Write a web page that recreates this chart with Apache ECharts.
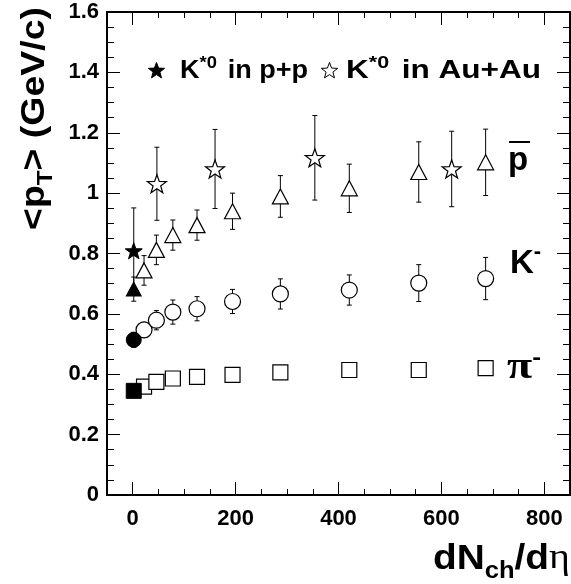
<!DOCTYPE html>
<html><head><meta charset="utf-8">
<script src="https://cdn.jsdelivr.net/npm/echarts@6/dist/echarts.min.js"></script>
<style>html,body{margin:0;padding:0;background:#fff}#c{width:571px;height:584px}</style>
</head><body><div id="c"></div>
<script>
// ---------------- data ----------------
const auX = [22, 46, 78, 125, 194, 287, 421, 556, 686];           // dNch/deta, Au+Au centrality bins
const piMinus = [0.359, 0.375, 0.386, 0.391, 0.398, 0.406, 0.414, 0.414, 0.420];
const kMinus = [0.547, 0.579, 0.606, 0.617, 0.641, 0.666, 0.679, 0.702, 0.717];
const kMinusErr = [0.025, 0.032, 0.040, 0.040, 0.040, 0.050, 0.050, 0.061, 0.070];
const pBar = [0.744, 0.812, 0.861, 0.894, 0.940, 0.989, 1.016, 1.070, 1.102];
const pBarErr = [0.049, 0.049, 0.050, 0.050, 0.060, 0.069, 0.080, 0.100, 0.110];
const kStarAuX = [47, 160, 354, 620];
const kStarAu = [1.031, 1.080, 1.117, 1.080];
const kStarAuErr = [0.121, 0.131, 0.140, 0.125];
const ppX = [2];
const ppPi = [0.345];
const ppK = [0.514];
const ppKErr = [0.025];
const ppPBar = [0.682];
const ppPBarErr = [0.040];
const ppKStar = [0.809];
const ppKStarErr = [0.142];
const xMajorTicks = [0, 200, 400, 600, 800];
const xMinorTicks = [-50, 50, 100, 150, 250, 300, 350, 450, 500, 550, 650, 700, 750, 850];

// ---------------- helpers ----------------
const SANS = "'Liberation Sans', Arial, Helvetica, sans-serif";
const SERIF = "'Liberation Serif', 'Times New Roman', serif";
function starPoints(cx, cy, R, r) {
  const pts = [];
  for (let i = 0; i < 10; i++) {
    const a = -Math.PI / 2 + i * Math.PI / 5;
    const rad = i % 2 === 0 ? R : r;
    pts.push([cx + rad * Math.cos(a), cy + rad * Math.sin(a)]);
  }
  return pts;
}
const starPath = 'path://M' + starPoints(50, 50, 50, 20).map(p => p[0].toFixed(2) + ',' + p[1].toFixed(2)).join('L') + 'Z';

const mctx = document.createElement('canvas').getContext('2d');
function tw(text, font) { mctx.font = font; return mctx.measureText(text).width; }
// pieces laid out on a common baseline at local y = 0; group stretched along the text to span `span` px
function textRow(x, y, pieces, span, rotation) {
  let cx = 0; const out = [];
  for (const p of pieces) {
    const font = (p.weight || 'bold') + ' ' + p.size + 'px ' + (p.family || SANS);
    out.push({ type: 'text', x: cx, y: (p.dy || 0) - 0.3465 * p.size,
      style: { text: p.text, font: font, fill: '#000', textAlign: 'left', textVerticalAlign: 'middle', verticalAlign: 'middle' } });
    cx += tw(p.text, font) + (p.gap || 0);
  }
  const sx = span ? span / cx : 1;
  return { type: 'group', x: x, y: y, rotation: rotation || 0, scaleX: sx, scaleY: 1, children: out };
}

function errSeries(xs, ys, es) {
  return {
    type: 'custom', silent: true, z: 1, clip: false,
    encode: { x: 0, y: 1 },
    data: xs.map((x, i) => [x, ys[i], es[i]]),
    renderItem: function (params, api) {
      const x = api.value(0), y = api.value(1), e = api.value(2);
      const t = api.coord([x, y + e]), b = api.coord([x, y - e]);
      const c = 2.5, st = { stroke: '#000', lineWidth: 1 };
      return { type: 'group', children: [
        { type: 'line', shape: { x1: t[0], y1: t[1], x2: b[0], y2: b[1] }, style: st },
        { type: 'line', shape: { x1: t[0] - c, y1: t[1], x2: t[0] + c, y2: t[1] }, style: st },
        { type: 'line', shape: { x1: b[0] - c, y1: b[1], x2: b[0] + c, y2: b[1] }, style: st }
      ] };
    }
  };
}
function pts(xs, ys) { return xs.map((x, i) => [x, ys[i]]); }
const openStyle = { color: '#fff', borderColor: '#000', borderWidth: 1.2, opacity: 1 };
const fillStyle = { color: '#000', borderColor: '#000', borderWidth: 1, opacity: 1 };
function scat(data, symbol, size, style) {
  return { type: 'scatter', data: data, symbol: symbol, symbolSize: size, symbolKeepAspect: true, itemStyle: style, z: 3, silent: true, clip: false };
}

const AX = '#000';
function xAxisDef(pos, ticks, len, labels) {
  return {
    type: 'value', position: pos, min: -50, max: 850, gridIndex: 0,
    axisLine: { show: labels !== null, onZero: false, lineStyle: { color: AX, width: 2 } },
    axisTick: { show: true, inside: true, length: len, customValues: ticks, lineStyle: { color: AX, width: 1 } },
    axisLabel: labels ? { show: true, customValues: ticks, margin: 13, color: '#000', fontFamily: SANS, fontWeight: 'bold', fontSize: 22 } : { show: false },
    splitLine: { show: false }
  };
}
function yAxisDef(pos, labels) {
  return {
    type: 'value', position: pos, min: 0, max: 1.6, interval: 0.2, gridIndex: 0,
    axisLine: { show: true, onZero: false, lineStyle: { color: AX, width: 2 } },
    axisTick: { show: true, inside: true, length: 13, lineStyle: { color: AX, width: 1 } },
    minorTick: { show: true, splitNumber: 4, length: 7, lineStyle: { color: AX, width: 1 } },
    axisLabel: labels ? { show: true, margin: 8, color: '#000', fontFamily: SANS, fontWeight: 'bold', fontSize: 22 } : { show: false },
    splitLine: { show: false }, minorSplitLine: { show: false }
  };
}

const chart = echarts.init(document.getElementById('c'), null, { renderer: 'canvas' });
const graphics = [
  // y-axis title (reads bottom to top)
  textRow(46, 230, [
    { text: '<p', size: 34 },
    { text: 'T', size: 22, dy: 8 },
    { text: '> (GeV/c)', size: 34 }
  ], 223, Math.PI / 2),
  // x-axis title
  textRow(433, 571, [
    { text: 'dN', size: 35 },
    { text: 'ch', size: 23, dy: 9 },
    { text: '/d', size: 35 },
    { text: 'η', size: 36, weight: 'normal', family: SERIF }
  ], 137),
  // legend
  { type: 'polygon', shape: { points: starPoints(156.5, 71, 8.5, 3.6) }, style: { fill: '#000', stroke: '#000', lineWidth: 1 } },
  textRow(180, 80, [
    { text: 'K', size: 25 },
    { text: '*0', size: 17, dy: -11, gap: 3 },
    { text: ' in p+p', size: 25 }
  ], 128),
  { type: 'polygon', shape: { points: starPoints(329.5, 71, 8.5, 3.6) }, style: { fill: '#fff', stroke: '#000', lineWidth: 1 } },
  textRow(346, 80, [
    { text: 'K', size: 25 },
    { text: '*0', size: 17, dy: -11, gap: 3 },
    { text: ' in Au+Au', size: 25 }
  ], 195),
  // particle labels
  textRow(508, 172, [{ text: 'p', size: 33 }]),
  { type: 'line', shape: { x1: 509, y1: 142, x2: 530, y2: 142 }, style: { stroke: '#000', lineWidth: 2 } },
  textRow(510, 275, [
    { text: 'K', size: 33 },
    { text: '-', size: 22, dy: -15 }
  ]),
  textRow(507, 381, [
    { text: 'π', size: 38, weight: 'bold', family: SERIF },
    { text: '-', size: 22, dy: -15 }
  ], 34)
];

chart.setOption({
  animation: false,
  backgroundColor: '#fff',
  grid: { left: 107, right: 1, top: 12, bottom: 89, containLabel: false },
  xAxis: [
    xAxisDef('bottom', xMajorTicks, 13, true),
    xAxisDef('bottom', xMinorTicks, 6, null),
    xAxisDef('top', xMajorTicks, 13, false),
    xAxisDef('top', xMinorTicks, 6, null)
  ],
  yAxis: [yAxisDef('left', true), yAxisDef('right', false)],
  graphic: graphics,
  series: [
    errSeries(auX, kMinus, kMinusErr),
    errSeries(auX, pBar, pBarErr),
    errSeries(kStarAuX, kStarAu, kStarAuErr),
    errSeries(ppX, ppK, ppKErr),
    errSeries(ppX, ppPBar, ppPBarErr),
    errSeries(ppX, ppKStar, ppKStarErr),
    scat(pts(auX, piMinus), 'rect', 15, openStyle),
    scat(pts(auX, kMinus), 'circle', 16, openStyle),
    scat(pts(auX, pBar), 'triangle', [16, 15], openStyle),
    scat(pts(kStarAuX, kStarAu), starPath, 19, openStyle),
    scat(pts(ppX, ppPi), 'rect', 15, fillStyle),
    scat(pts(ppX, ppK), 'circle', 15, fillStyle),
    scat(pts(ppX, ppPBar), 'triangle', [15, 14], fillStyle),
    scat(pts(ppX, ppKStar), starPath, 17, fillStyle)
  ]
});
</script>
</body></html>
